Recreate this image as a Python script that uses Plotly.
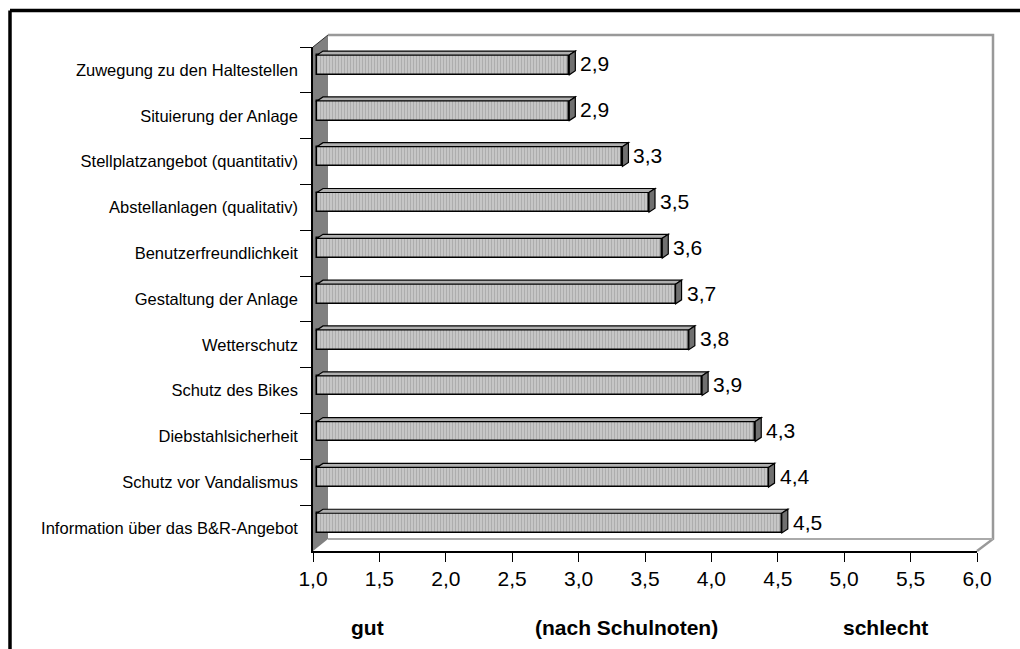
import plotly.graph_objects as go

# Ratings of the Bike & Ride facilities (German school grades, 1 = best, 6 = worst)
categories = [
    "Zuwegung zu den Haltestellen",
    "Situierung der Anlage",
    "Stellplatzangebot (quantitativ)",
    "Abstellanlagen (qualitativ)",
    "Benutzerfreundlichkeit",
    "Gestaltung der Anlage",
    "Wetterschutz",
    "Schutz des Bikes",
    "Diebstahlsicherheit",
    "Schutz vor Vandalismus",
    "Information über das B&R-Angebot",
]
grades = [2.9, 2.9, 3.3, 3.5, 3.6, 3.7, 3.8, 3.9, 4.3, 4.4, 4.5]
x_ticks = [1.0, 1.5, 2.0, 2.5, 3.0, 3.5, 4.0, 4.5, 5.0, 5.5, 6.0]
scale_labels = ["gut", "(nach Schulnoten)", "schlecht"]
scale_label_x = [1.41, 3.36, 5.31]

X_MIN, X_MAX = 1.0, 6.0

# Page geometry (pixels)
W, H = 1020, 649
PL, PR, PT, PB = 313, 977, 47, 551
plot_w, plot_h = PR - PL, PB - PT
n = len(categories)
px_per_x = plot_w / (X_MAX - X_MIN)
px_per_cat = plot_h / n

FONT = "Arial, 'Liberation Sans', sans-serif"


def paper_x(px):
    return (px - PL) / plot_w


def paper_y(py):
    return (PB - py) / plot_h


def ppath(points, close=True):
    s = "M " + " L ".join(f"{paper_x(a):.5f},{paper_y(b):.5f}" for a, b in points)
    return s + (" Z" if close else "")


# Depth of the 3D frame and of the bars, in pixels
WALL_DX, WALL_DY = 15, 12
BAR_SHIFT_X, BAR_SHIFT_Y = 4, 5       # bars sit a little behind the front plane
BAR_DX, BAR_DY = 6, 4                 # bar depth
BAR_W = 0.43

fig = go.Figure()

fig.add_trace(go.Bar(
    y=categories,
    x=[v - X_MIN for v in grades],
    base=[X_MIN] * n,
    orientation="h",
    width=BAR_W,
    xaxis="x2",
    yaxis="y2",
    marker=dict(
        color="#c6c6c6",
        line=dict(color="black", width=1.5),
        pattern=dict(shape="|", fgcolor="#8e8e8e", size=3, solidity=0.3,
                     fillmode="overlay"),
    ),
    hovertemplate="%{y}: %{customdata}<extra></extra>",
    customdata=[f"{v:.1f}".replace(".", ",") for v in grades],
    showlegend=False,
))

shapes = []

# Left side wall and the outline of the back wall / floor
shapes.append(dict(type="path", xref="paper", yref="paper", layer="below",
                   path=ppath([(PL, PT), (PL + WALL_DX, PT - WALL_DY),
                               (PL + WALL_DX, PB - WALL_DY), (PL, PB)]),
                   fillcolor="#808080", line=dict(width=0)))
shapes.append(dict(type="path", xref="paper", yref="paper", layer="below",
                   path=ppath([(PL, PT), (PL + WALL_DX, PT - WALL_DY)], close=False),
                   line=dict(color="#303030", width=1)))
shapes.append(dict(type="path", xref="paper", yref="paper", layer="below",
                   path=ppath([(PL + WALL_DX, PT - WALL_DY), (PR + WALL_DX + 1, PT - WALL_DY),
                               (PR + WALL_DX + 1, PB - WALL_DY), (PR, PB)], close=False),
                   line=dict(color="#999999", width=2.5)))
shapes.append(dict(type="path", xref="paper", yref="paper", layer="below",
                   path=ppath([(PL + WALL_DX, PB - WALL_DY), (PR + WALL_DX + 1, PB - WALL_DY)],
                              close=False),
                   line=dict(color="#aaaaaa", width=2)))

# Top and end faces of each bar
ddx = BAR_DX / px_per_x
ddy = BAR_DY / px_per_cat
h = BAR_W / 2
for i, v in enumerate(grades):
    top = [(X_MIN, i - h), (v, i - h), (v + ddx, i - h - ddy), (X_MIN + ddx, i - h - ddy)]
    side = [(v, i - h), (v + ddx, i - h - ddy), (v + ddx, i + h - ddy), (v, i + h)]
    for pts, col in ((top, "#b0b0b0"), (side, "#707070")):
        shapes.append(dict(
            type="path", xref="x2", yref="y2", layer="above",
            path="M " + " L ".join(f"{a:.5f},{b:.5f}" for a, b in pts) + " Z",
            fillcolor=col, line=dict(color="black", width=1.2)))

# Outer frame
shapes.append(dict(type="line", xref="paper", yref="paper",
                   x0=paper_x(10), x1=paper_x(1040), y0=paper_y(10.5), y1=paper_y(10.5),
                   line=dict(color="black", width=3.5)))
shapes.append(dict(type="line", xref="paper", yref="paper",
                   x0=paper_x(10), x1=paper_x(10), y0=paper_y(10.5), y1=paper_y(680),
                   line=dict(color="black", width=3.5)))

annotations = []
for i, v in enumerate(grades):
    annotations.append(dict(
        x=v + ddx, y=i, xref="x2", yref="y2", xanchor="left", yanchor="middle",
        xshift=3, yshift=1, showarrow=False,
        text=f"{v:.1f}".replace(".", ","),
        font=dict(family=FONT, size=21, color="black")))

for txt, xv in zip(scale_labels, scale_label_x):
    annotations.append(dict(
        x=xv, y=paper_y(627), xref="x", yref="paper", xanchor="center", yanchor="middle",
        showarrow=False, text=f"<b>{txt}</b>",
        font=dict(family=FONT, size=21, color="black")))

x_shift = BAR_SHIFT_X / px_per_x
y_shift = BAR_SHIFT_Y / px_per_cat

fig.update_layout(
    width=W, height=H,
    margin=dict(l=PL, r=W - PR, t=PT, b=H - PB, pad=0),
    paper_bgcolor="white",
    plot_bgcolor="rgba(0,0,0,0)",
    separators=",.",
    font=dict(family=FONT, color="black"),
    bargap=0,
    xaxis=dict(
        range=[X_MIN, X_MAX], tickvals=x_ticks, tickformat=".1f",
        showgrid=False, zeroline=False, showline=True, linecolor="black", linewidth=1.5,
        ticks="outside", ticklen=9, tickcolor="black", tickwidth=1,
        tickfont=dict(family=FONT, size=21), ticklabelstandoff=-1, fixedrange=True,
    ),
    yaxis=dict(
        type="category", categoryorder="array", categoryarray=categories,
        range=[n - 0.5, -0.5], tickson="boundaries",
        showgrid=False, zeroline=False, showline=True, linecolor="black", linewidth=1.5,
        ticks="outside", ticklen=11, tickcolor="black", tickwidth=1,
        tickfont=dict(family=FONT, size=16.5), ticklabelstandoff=10, fixedrange=True,
    ),
    xaxis2=dict(overlaying="x", range=[X_MIN - x_shift, X_MAX - x_shift],
                visible=False, fixedrange=True),
    yaxis2=dict(overlaying="y", type="category", categoryorder="array",
                categoryarray=categories, range=[n - 0.5 + y_shift, -0.5 + y_shift],
                visible=False, fixedrange=True),
    shapes=shapes,
    annotations=annotations,
)

fig.write_html("out.html")
